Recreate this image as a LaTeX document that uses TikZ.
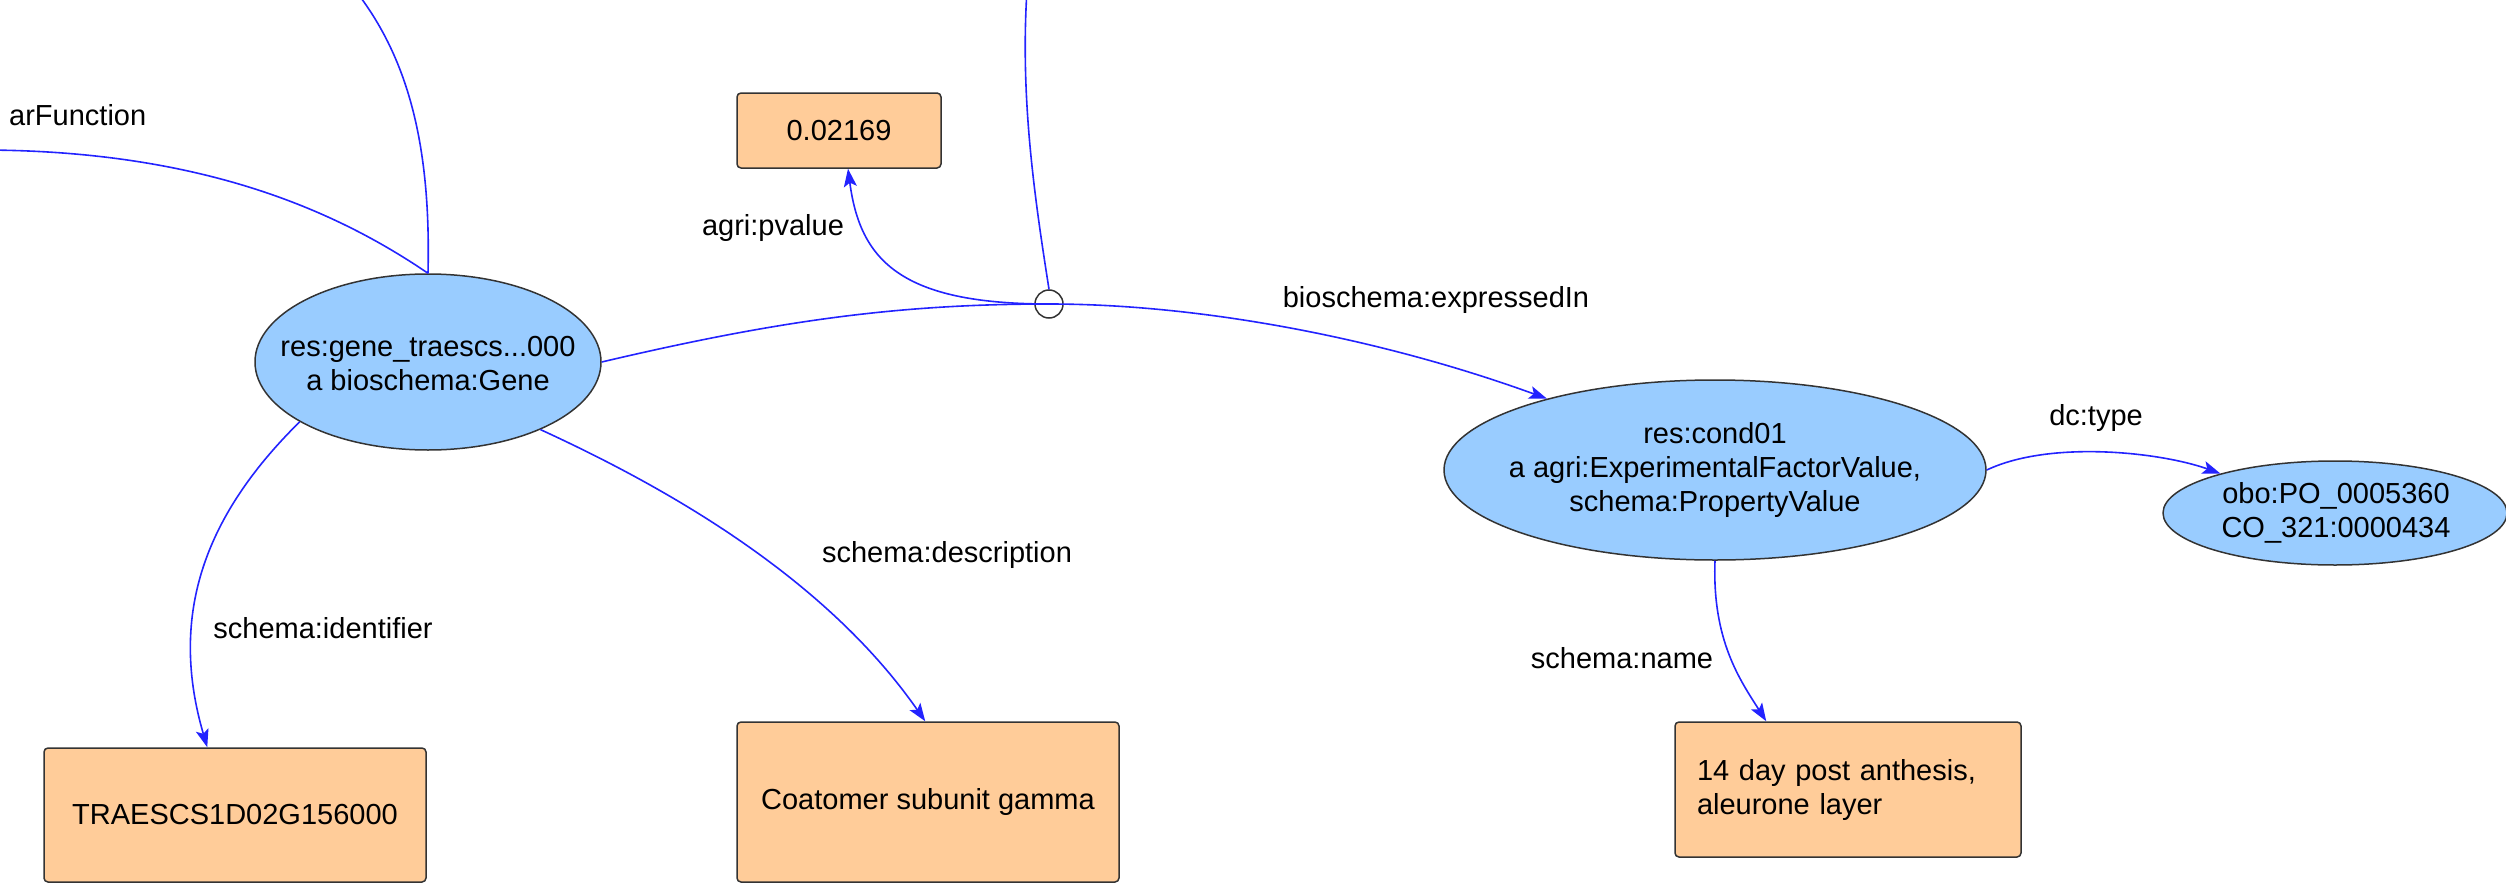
\documentclass[tikz,border=0pt]{standalone}
\usepackage{fontspec}
\setmainfont{Liberation Sans}
\usetikzlibrary{shapes.geometric,arrows.meta}
\definecolor{resblue}{HTML}{99CCFF}
\definecolor{litpeach}{HTML}{FFCC99}
\definecolor{edgeblue}{RGB}{35,35,255}
\definecolor{outline}{HTML}{333333}
\begin{document}
\begin{tikzpicture}[x=1pt,y=-1pt,
  every node/.style={font=\fontsize{29}{34}\selectfont},
  res/.style={ellipse, draw=outline, fill=resblue, line width=1.5pt, inner sep=0pt},
  restext/.style={align=center, inner sep=0pt},
  lit/.style={rectangle, rounded corners=4pt, draw=outline, fill=litpeach, line width=1.5pt, inner sep=0pt, align=center},
  rel/.style={draw=edgeblue, line width=1.6pt},
  arr/.style={rel, -{Stealth[length=18pt,width=13pt,inset=4pt]}},
  lbl/.style={anchor=base, inner sep=0pt}]
\useasboundingbox (0,0) rectangle (2506,883);
\clip (0,0) rectangle (2506,883);

% resource nodes (shape, then its text)
\node[res, minimum width=346pt, minimum height=176pt] (gene) at (428,362) {};
\node[restext] (genet) at (428,364) {res:gene\_traescs...000\\a bioschema:Gene};
\node[res, minimum width=542pt, minimum height=180pt] (cond) at (1715,470) {};
\node[restext] (condt) at (1715,470) {res:cond01\\a agri:ExperimentalFactorValue,\\schema:PropertyValue};
\node[res, minimum width=344pt, minimum height=104pt] (obo) at (2335,513) {};
\node[restext] (obot) at (2336,513) {obo:PO\_0005360\\CO\_321:0000434};

% literal nodes
\node[lit, minimum width=204pt, minimum height=75pt] (pval) at (839,130.5) {0.02169};
\node[lit, minimum width=382pt, minimum height=134pt] (ident) at (235,815) {TRAESCS1D02G156000};
\node[lit, minimum width=382pt, minimum height=160pt] (desc) at (928,802) {Coatomer subunit gamma};
\node[lit, minimum width=346pt, minimum height=135pt, text width=302pt, inner xsep=22pt, align=left] (name) at (1848,789.5) {14 day post anthesis,\\aleurone layer};

% reification point
\node[circle, draw=outline, line width=1.5pt, minimum size=28pt, inner sep=0pt] (r) at (1049,304) {};

% free ends of connectors leaving the picture
\coordinate (top1) at (355,-10);
\coordinate (left1) at (-20,150);
\coordinate (top2) at (1027,-10);

% connectors
\draw[rel] (gene.north) .. controls (431,150) and (410,60) .. (top1);
\draw[rel] (gene.north) .. controls (335,210) and (200,150) .. (left1);
\draw[rel] (r.north) .. controls (1035,200) and (1020,100) .. (top2);
\draw[rel] (gene.east) .. controls (780,320) and (900,304) .. (r.center);
\draw[arr] (r.center) .. controls (1200,304) and (1380,338) .. (cond.157);
\draw[arr] (r.center) .. controls (900,304) and (860,260) .. ([xshift=9pt]pval.south);
\draw[arr] (cond.east) .. controls (2050,440) and (2160,452) .. (obo.161);
\draw[arr] (cond.south) .. controls (1712,640) and (1740,680) .. ([xshift=92pt]name.north west);
\draw[arr] (gene.205) .. controls (200,520) and (170,620) .. ([xshift=164pt]ident.north west);
\draw[arr] (gene.-31) .. controls (650,480) and (820,570) .. ([xshift=189pt]desc.north west);

% edge labels
\node[lbl, anchor=base west] (lfun) at (9,125) {arFunction};
\node[lbl] (lpv) at (773,235) {agri:pvalue};
\node[lbl] (lexp) at (1436,307) {bioschema:expressedIn};
\node[lbl] (ltype) at (2096,425) {dc:type};
\node[lbl] (lid) at (323,638) {schema:identifier};
\node[lbl] (ldesc) at (947,562) {schema:description};
\node[lbl] (lname) at (1622,668) {schema:name};
\end{tikzpicture}
\end{document}
